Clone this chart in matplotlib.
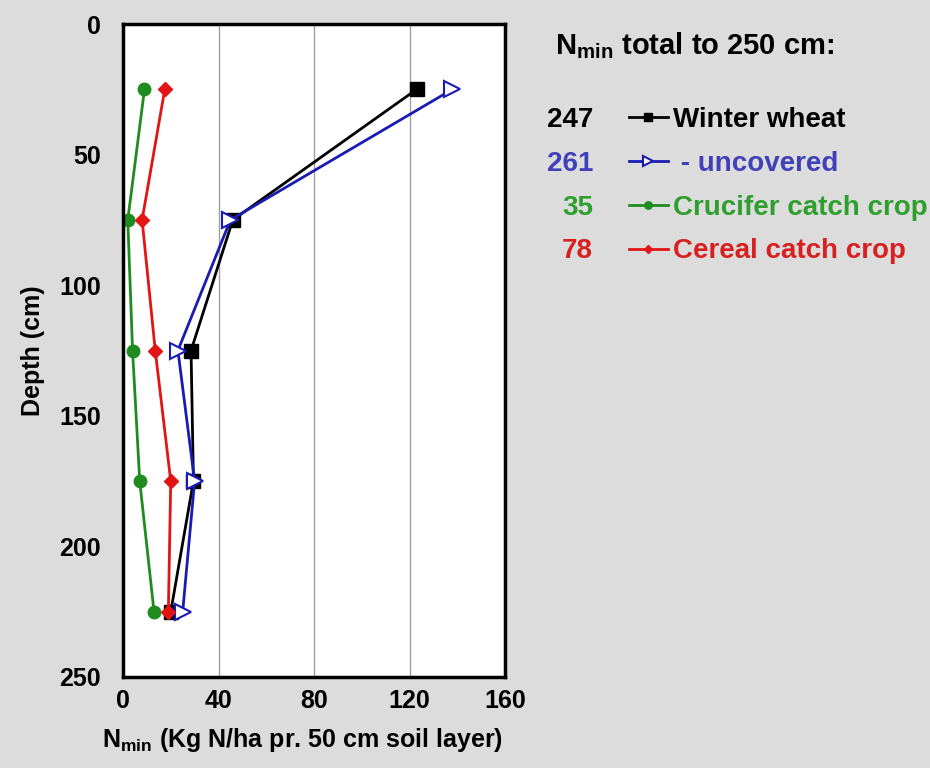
import numpy as np
import matplotlib.pyplot as plt

plt.rcParams['font.family'] = ['Liberation Sans', 'DejaVu Sans']
plt.rcParams['font.weight'] = 'bold'
plt.rcParams['mathtext.fontset'] = 'custom'
plt.rcParams['mathtext.rm'] = 'Liberation Sans:bold'
plt.rcParams['mathtext.default'] = 'rm'

# depth of each 50 cm layer midpoint
depth = [25, 75, 125, 175, 225]
winter_wheat = [123, 46, 28.5, 29.5, 20]
uncovered = [138, 45, 23, 30, 25]
crucifer = [9, 2, 4, 7, 13]
cereal = [17.5, 8, 13.5, 20, 19]

series_names = ["Winter wheat", " - uncovered", "Crucifer catch crop", "Cereal catch crop"]
totals = ["247", "261", "35", "78"]
line_colors = ["black", "#1a1ab4", "#1e8c1e", "#e31414"]
text_colors = ["black", "#4040b8", "#2e9e2e", "#d82020"]

fig = plt.figure(figsize=(9.3, 7.68), dpi=100)
fig.patch.set_facecolor("#dcdcdc")
ax = fig.add_axes([123 / 930, 1 - 677 / 768, 382 / 930, 653 / 768])
ax.set_facecolor("white")

h1, = ax.plot(winter_wheat, depth, color=line_colors[0], lw=2, marker="s",
              ms=10, mfc="black", mec="black")
h2, = ax.plot(uncovered, depth, color=line_colors[1], lw=2, marker=">",
              ms=11, mfc="white", mec=line_colors[1], mew=1.5)
h3, = ax.plot(crucifer, depth, color=line_colors[2], lw=2, marker="o",
              ms=9, mfc=line_colors[2], mec=line_colors[2])
h4, = ax.plot(cereal, depth, color=line_colors[3], lw=2, marker="D",
              ms=7, mfc=line_colors[3], mec=line_colors[3])

ax.set_xlim(0, 160)
ax.set_ylim(250, 0)
ax.set_xticks([0, 40, 80, 120, 160])
ax.set_yticks([0, 50, 100, 150, 200, 250])
ax.tick_params(length=0, labelsize=18)
ax.tick_params(axis="y", pad=16)
ax.tick_params(axis="x", pad=9)
ax.grid(axis="x", color="#a0a0a0", lw=1)
ax.set_axisbelow(True)
for s in ax.spines.values():
    s.set_linewidth(2.5)
    s.set_color("black")

ax.set_xlabel(r"N$_{min}$ (Kg N/ha pr. 50 cm soil layer)", fontsize=18,
              fontweight="bold", labelpad=9)
ax.xaxis.label.set_x(0.47)
ax.set_ylabel("Depth (cm)", fontsize=18, fontweight="bold", labelpad=10)

fig.text(555 / 930, 1 - 46 / 768, r"N$_{min}$ total to 250 cm:", fontsize=21,
         fontweight="bold", va="center", ha="left")

leg = fig.legend([h1, h2, h3, h4], series_names, loc="upper left",
                 bbox_to_anchor=(604 / 930, 1 - 82 / 768), frameon=False,
                 fontsize=20, handlelength=1.4, handletextpad=0.2,
                 labelspacing=0.64, markerscale=0.6)
for t, c in zip(leg.get_texts(), text_colors):
    t.set_color(c)
    t.set_fontweight("bold")

fig.canvas.draw()
for t, num, c in zip(leg.get_texts(), totals, text_colors):
    bb = t.get_window_extent()
    yc = (bb.y0 + bb.y1) / 2 / fig.bbox.height
    fig.text(593 / 930, yc, num, fontsize=20, fontweight="bold", color=c,
             ha="right", va="center")

fig.savefig("out.png", dpi=100, facecolor=fig.get_facecolor())
